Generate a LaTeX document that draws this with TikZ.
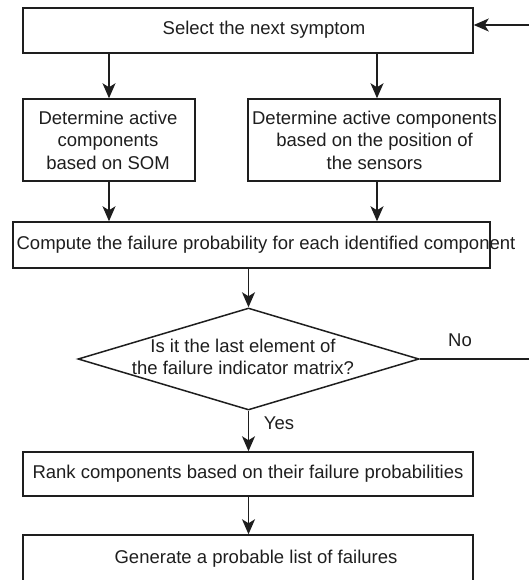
\documentclass[tikz,border=0pt]{standalone}
\usepackage{fontspec}
\setmainfont{Liberation Sans}
\usetikzlibrary{shapes.geometric,arrows.meta}
\definecolor{ink}{HTML}{1E1E1E}
\begin{document}
\begin{tikzpicture}[x=1pt,y=-1pt,
  every node/.style={font=\fontsize{18.5}{22.5}\selectfont, text=ink},
  stepbox/.style={draw=ink, line width=1.5pt, rectangle, inner sep=0pt},
  decision/.style={draw=ink, line width=1.5pt, diamond, inner sep=0pt},
  label/.style={align=center, inner sep=0pt},
  arr/.style={draw=ink, line width=1.4pt, -{Stealth[length=15pt,width=13pt,inset=4pt]}},
  flow/.style={draw=ink, line width=1.4pt}]
\useasboundingbox (0,0) rectangle (529,580);

% boxes
\node[stepbox, minimum width=450pt, minimum height=45pt] (top) at (248,30.5) {};
\node[stepbox, minimum width=172pt, minimum height=82pt] (left) at (109,140) {};
\node[stepbox, minimum width=252pt, minimum height=82pt] (right) at (374,140) {};
\node[stepbox, minimum width=477pt, minimum height=46pt] (comp) at (251.5,245) {};
\node[decision, minimum width=341pt, minimum height=102pt] (dia) at (248.5,359) {};
\node[stepbox, minimum width=450pt, minimum height=44pt] (rank) at (248,474) {};
\node[stepbox, minimum width=450pt, minimum height=60pt] (gen) at (248,565) {};

% texts
\node[label] (ttop) at (264,30) {Select the next symptom};
\node[label] (tleft) at (108,140) {Determine active\\components\\based on SOM};
\node[label] (tright) at (374.5,140) {Determine active components\\based on the position of\\the sensors};
\node[label] (tcomp) at (266,245) {Compute the failure probability for each identified component};
\node[label] (tdia) at (243,357) {Is it the last element of\\the failure indicator matrix?};
\node[label] (trank) at (248,474) {Rank components based on their failure probabilities};
\node[label] (tgen) at (256,559) {Generate a probable list of failures};
\node[label] (no) at (460,340) {No};
\node[label] (yes) at (279,423) {Yes};

% connectors
\draw[arr] (left.north |- top.south) -- (left.north);
\draw[arr] ([xshift=3pt]right.north |- top.south) -- ([xshift=3pt]right.north);
\draw[arr] (left.south) -- (left.south |- comp.north);
\draw[arr] ([xshift=3pt]right.south) -- ([xshift=3pt]right.south |- comp.north);
\draw[arr] (comp.south -| dia.north) -- (dia.north);
\draw[arr] (dia.south) -- (dia.south |- rank.north);
\draw[arr] (rank.south -| dia.south) -- (dia.south |- gen.north);
% return path runs along the right edge, mostly beyond the page
\coordinate (loop) at (529.5,359);
\draw[arr] (dia.east) -- (loop) |- ([yshift=5.5pt]top.east);
\end{tikzpicture}
\end{document}
